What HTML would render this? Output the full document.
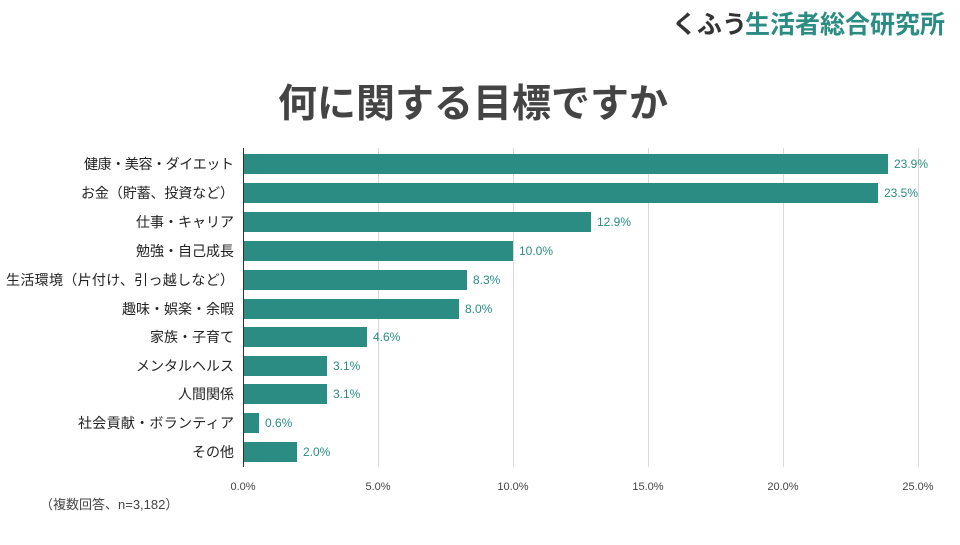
<!DOCTYPE html>
<html><head><meta charset="utf-8"><style>
body{margin:0;background:#fff;}
svg text{font-family:"Liberation Sans","Noto Sans CJK JP",sans-serif;}
</style></head><body>
<svg width="960" height="540" xmlns="http://www.w3.org/2000/svg">
<rect width="960" height="540" fill="#fff"/>
<text x="672" y="33" font-size="25" font-weight="bold" fill="#333">くふう</text>
<text x="745" y="33" font-size="25" font-weight="bold" fill="#2a8c83">生活者総合研究所</text>
<text x="473" y="117" font-size="39" font-weight="bold" fill="#444" text-anchor="middle">何に関する目標ですか</text>
<g stroke="#d9d9d9" stroke-width="1">
<line x1="378.5" y1="148" x2="378.5" y2="467"/>
<line x1="513.5" y1="148" x2="513.5" y2="467"/>
<line x1="648.5" y1="148" x2="648.5" y2="467"/>
<line x1="783.5" y1="148" x2="783.5" y2="467"/>
<line x1="918.5" y1="148" x2="918.5" y2="467"/>
</g>
<g font-size="11" fill="#444" text-anchor="middle">
<text x="243" y="490">0.0%</text><text x="378" y="490">5.0%</text><text x="513" y="490">10.0%</text><text x="648" y="490">15.0%</text><text x="783" y="490">20.0%</text><text x="918" y="490">25.0%</text>
</g>
<g fill="#2a8c83">
<rect x="243" y="154" width="645" height="20"/>
<rect x="243" y="183" width="635" height="20"/>
<rect x="243" y="212" width="348" height="20"/>
<rect x="243" y="241" width="270" height="20"/>
<rect x="243" y="270" width="224" height="20"/>
<rect x="243" y="299" width="216" height="20"/>
<rect x="243" y="327" width="124" height="20"/>
<rect x="243" y="356" width="84" height="20"/>
<rect x="243" y="384" width="84" height="20"/>
<rect x="243" y="413" width="16" height="20"/>
<rect x="243" y="442" width="54" height="20"/>
</g>
<line x1="243.5" y1="148" x2="243.5" y2="467" stroke="#333" stroke-width="1"/>
<g font-size="12" fill="#2a8c83">
<text x="894" y="168">23.9%</text><text x="884" y="197">23.5%</text><text x="597" y="226">12.9%</text><text x="519" y="255">10.0%</text><text x="473" y="284">8.3%</text><text x="465" y="313">8.0%</text><text x="373" y="341">4.6%</text><text x="333" y="370">3.1%</text><text x="333" y="398">3.1%</text><text x="265" y="427">0.6%</text><text x="303" y="456">2.0%</text>
</g>
<g font-size="14" fill="#222" text-anchor="end">
<text x="234" y="169" textLength="150">健康・美容・ダイエット</text>
<text x="234" y="198" textLength="153">お金（貯蓄、投資など）</text>
<text x="234" y="227">仕事・キャリア</text>
<text x="234" y="256">勉強・自己成長</text>
<text x="234" y="285" textLength="228">生活環境（片付け、引っ越しなど）</text>
<text x="234" y="314">趣味・娯楽・余暇</text>
<text x="234" y="342">家族・子育て</text>
<text x="234" y="371">メンタルヘルス</text>
<text x="234" y="399">人間関係</text>
<text x="234" y="428" textLength="156">社会貢献・ボランティア</text>
<text x="234" y="457">その他</text>
</g>
<text x="40" y="509" font-size="13" fill="#444">（複数回答、n=3,182）</text>
</svg>
</body></html>
